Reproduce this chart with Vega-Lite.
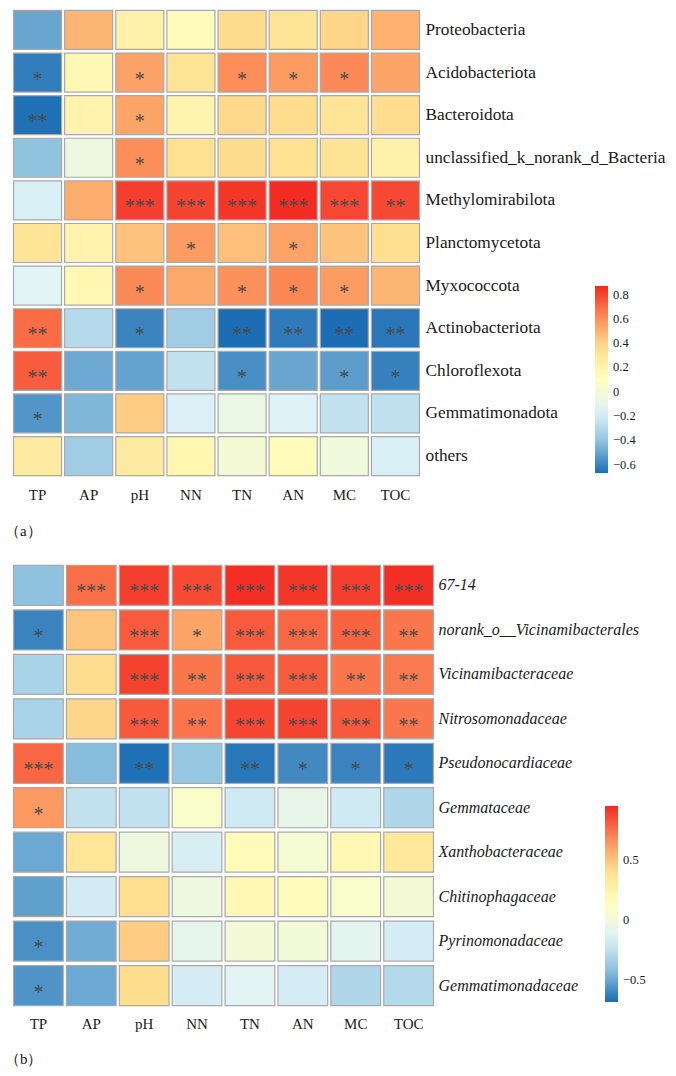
{
  "$schema": "https://vega.github.io/schema/vega-lite/v6.json",
  "background": "white",
  "padding": {"left": 4, "top": 9, "right": 0, "bottom": 0},
  "config": {
    "view": {"stroke": null},
    "font": "Times New Roman, Liberation Serif, serif",
    "concat": {"spacing": 25}
  },
  "datasets": {
    "phylum": [
      {"taxon": "Proteobacteria", "factor": "TP", "r": -0.50, "sig": ""},
      {"taxon": "Proteobacteria", "factor": "AP", "r": 0.49, "sig": ""},
      {"taxon": "Proteobacteria", "factor": "pH", "r": 0.22, "sig": ""},
      {"taxon": "Proteobacteria", "factor": "NN", "r": 0.13, "sig": ""},
      {"taxon": "Proteobacteria", "factor": "TN", "r": 0.37, "sig": ""},
      {"taxon": "Proteobacteria", "factor": "AN", "r": 0.32, "sig": ""},
      {"taxon": "Proteobacteria", "factor": "MC", "r": 0.39, "sig": ""},
      {"taxon": "Proteobacteria", "factor": "TOC", "r": 0.50, "sig": ""},
      {"taxon": "Acidobacteriota", "factor": "TP", "r": -0.62, "sig": "*"},
      {"taxon": "Acidobacteriota", "factor": "AP", "r": 0.16, "sig": ""},
      {"taxon": "Acidobacteriota", "factor": "pH", "r": 0.55, "sig": "*"},
      {"taxon": "Acidobacteriota", "factor": "NN", "r": 0.32, "sig": ""},
      {"taxon": "Acidobacteriota", "factor": "TN", "r": 0.61, "sig": "*"},
      {"taxon": "Acidobacteriota", "factor": "AN", "r": 0.57, "sig": "*"},
      {"taxon": "Acidobacteriota", "factor": "MC", "r": 0.62, "sig": "*"},
      {"taxon": "Acidobacteriota", "factor": "TOC", "r": 0.54, "sig": ""},
      {"taxon": "Bacteroidota", "factor": "TP", "r": -0.66, "sig": "**"},
      {"taxon": "Bacteroidota", "factor": "AP", "r": 0.20, "sig": ""},
      {"taxon": "Bacteroidota", "factor": "pH", "r": 0.54, "sig": "*"},
      {"taxon": "Bacteroidota", "factor": "NN", "r": 0.19, "sig": ""},
      {"taxon": "Bacteroidota", "factor": "TN", "r": 0.38, "sig": ""},
      {"taxon": "Bacteroidota", "factor": "AN", "r": 0.365, "sig": ""},
      {"taxon": "Bacteroidota", "factor": "MC", "r": 0.32, "sig": ""},
      {"taxon": "Bacteroidota", "factor": "TOC", "r": 0.365, "sig": ""},
      {"taxon": "unclassified_k_norank_d_Bacteria", "factor": "TP", "r": -0.41, "sig": ""},
      {"taxon": "unclassified_k_norank_d_Bacteria", "factor": "AP", "r": -0.05, "sig": ""},
      {"taxon": "unclassified_k_norank_d_Bacteria", "factor": "pH", "r": 0.61, "sig": "*"},
      {"taxon": "unclassified_k_norank_d_Bacteria", "factor": "NN", "r": 0.35, "sig": ""},
      {"taxon": "unclassified_k_norank_d_Bacteria", "factor": "TN", "r": 0.37, "sig": ""},
      {"taxon": "unclassified_k_norank_d_Bacteria", "factor": "AN", "r": 0.35, "sig": ""},
      {"taxon": "unclassified_k_norank_d_Bacteria", "factor": "MC", "r": 0.33, "sig": ""},
      {"taxon": "unclassified_k_norank_d_Bacteria", "factor": "TOC", "r": 0.22, "sig": ""},
      {"taxon": "Methylomirabilota", "factor": "TP", "r": -0.18, "sig": ""},
      {"taxon": "Methylomirabilota", "factor": "AP", "r": 0.51, "sig": ""},
      {"taxon": "Methylomirabilota", "factor": "pH", "r": 0.815, "sig": "***"},
      {"taxon": "Methylomirabilota", "factor": "NN", "r": 0.80, "sig": "***"},
      {"taxon": "Methylomirabilota", "factor": "TN", "r": 0.84, "sig": "***"},
      {"taxon": "Methylomirabilota", "factor": "AN", "r": 0.865, "sig": "***"},
      {"taxon": "Methylomirabilota", "factor": "MC", "r": 0.795, "sig": "***"},
      {"taxon": "Methylomirabilota", "factor": "TOC", "r": 0.79, "sig": "**"},
      {"taxon": "Planctomycetota", "factor": "TP", "r": 0.32, "sig": ""},
      {"taxon": "Planctomycetota", "factor": "AP", "r": 0.20, "sig": ""},
      {"taxon": "Planctomycetota", "factor": "pH", "r": 0.45, "sig": ""},
      {"taxon": "Planctomycetota", "factor": "NN", "r": 0.57, "sig": "*"},
      {"taxon": "Planctomycetota", "factor": "TN", "r": 0.46, "sig": ""},
      {"taxon": "Planctomycetota", "factor": "AN", "r": 0.545, "sig": "*"},
      {"taxon": "Planctomycetota", "factor": "MC", "r": 0.45, "sig": ""},
      {"taxon": "Planctomycetota", "factor": "TOC", "r": 0.357, "sig": ""},
      {"taxon": "Myxococcota", "factor": "TP", "r": -0.14, "sig": ""},
      {"taxon": "Myxococcota", "factor": "AP", "r": 0.17, "sig": ""},
      {"taxon": "Myxococcota", "factor": "pH", "r": 0.62, "sig": "*"},
      {"taxon": "Myxococcota", "factor": "NN", "r": 0.53, "sig": ""},
      {"taxon": "Myxococcota", "factor": "TN", "r": 0.60, "sig": "*"},
      {"taxon": "Myxococcota", "factor": "AN", "r": 0.63, "sig": "*"},
      {"taxon": "Myxococcota", "factor": "MC", "r": 0.57, "sig": "*"},
      {"taxon": "Myxococcota", "factor": "TOC", "r": 0.49, "sig": ""},
      {"taxon": "Actinobacteriota", "factor": "TP", "r": 0.70, "sig": "**"},
      {"taxon": "Actinobacteriota", "factor": "AP", "r": -0.29, "sig": ""},
      {"taxon": "Actinobacteriota", "factor": "pH", "r": -0.60, "sig": "*"},
      {"taxon": "Actinobacteriota", "factor": "NN", "r": -0.36, "sig": ""},
      {"taxon": "Actinobacteriota", "factor": "TN", "r": -0.67, "sig": "**"},
      {"taxon": "Actinobacteriota", "factor": "AN", "r": -0.63, "sig": "**"},
      {"taxon": "Actinobacteriota", "factor": "MC", "r": -0.67, "sig": "**"},
      {"taxon": "Actinobacteriota", "factor": "TOC", "r": -0.64, "sig": "**"},
      {"taxon": "Chloroflexota", "factor": "TP", "r": 0.74, "sig": "**"},
      {"taxon": "Chloroflexota", "factor": "AP", "r": -0.49, "sig": ""},
      {"taxon": "Chloroflexota", "factor": "pH", "r": -0.51, "sig": ""},
      {"taxon": "Chloroflexota", "factor": "NN", "r": -0.25, "sig": ""},
      {"taxon": "Chloroflexota", "factor": "TN", "r": -0.57, "sig": "*"},
      {"taxon": "Chloroflexota", "factor": "AN", "r": -0.50, "sig": ""},
      {"taxon": "Chloroflexota", "factor": "MC", "r": -0.53, "sig": "*"},
      {"taxon": "Chloroflexota", "factor": "TOC", "r": -0.61, "sig": "*"},
      {"taxon": "Gemmatimonadota", "factor": "TP", "r": -0.55, "sig": "*"},
      {"taxon": "Gemmatimonadota", "factor": "AP", "r": -0.45, "sig": ""},
      {"taxon": "Gemmatimonadota", "factor": "pH", "r": 0.42, "sig": ""},
      {"taxon": "Gemmatimonadota", "factor": "NN", "r": -0.17, "sig": ""},
      {"taxon": "Gemmatimonadota", "factor": "TN", "r": -0.07, "sig": ""},
      {"taxon": "Gemmatimonadota", "factor": "AN", "r": -0.16, "sig": ""},
      {"taxon": "Gemmatimonadota", "factor": "MC", "r": -0.25, "sig": ""},
      {"taxon": "Gemmatimonadota", "factor": "TOC", "r": -0.26, "sig": ""},
      {"taxon": "others", "factor": "TP", "r": 0.27, "sig": ""},
      {"taxon": "others", "factor": "AP", "r": -0.36, "sig": ""},
      {"taxon": "others", "factor": "pH", "r": 0.27, "sig": ""},
      {"taxon": "others", "factor": "NN", "r": 0.17, "sig": ""},
      {"taxon": "others", "factor": "TN", "r": 0.005, "sig": ""},
      {"taxon": "others", "factor": "AN", "r": 0.13, "sig": ""},
      {"taxon": "others", "factor": "MC", "r": -0.03, "sig": ""},
      {"taxon": "others", "factor": "TOC", "r": -0.18, "sig": ""}
    ],
    "family": [
      {"taxon": "67-14", "factor": "TP", "r": -0.41, "sig": ""},
      {"taxon": "67-14", "factor": "AP", "r": 0.765, "sig": "***"},
      {"taxon": "67-14", "factor": "pH", "r": 0.893, "sig": "***"},
      {"taxon": "67-14", "factor": "NN", "r": 0.863, "sig": "***"},
      {"taxon": "67-14", "factor": "TN", "r": 0.94, "sig": "***"},
      {"taxon": "67-14", "factor": "AN", "r": 0.918, "sig": "***"},
      {"taxon": "67-14", "factor": "MC", "r": 0.895, "sig": "***"},
      {"taxon": "67-14", "factor": "TOC", "r": 0.935, "sig": "***"},
      {"taxon": "norank_o__Vicinamibacterales", "factor": "TP", "r": -0.61, "sig": "*"},
      {"taxon": "norank_o__Vicinamibacterales", "factor": "AP", "r": 0.495, "sig": ""},
      {"taxon": "norank_o__Vicinamibacterales", "factor": "pH", "r": 0.818, "sig": "***"},
      {"taxon": "norank_o__Vicinamibacterales", "factor": "NN", "r": 0.60, "sig": "*"},
      {"taxon": "norank_o__Vicinamibacterales", "factor": "TN", "r": 0.818, "sig": "***"},
      {"taxon": "norank_o__Vicinamibacterales", "factor": "AN", "r": 0.785, "sig": "***"},
      {"taxon": "norank_o__Vicinamibacterales", "factor": "MC", "r": 0.79, "sig": "***"},
      {"taxon": "norank_o__Vicinamibacterales", "factor": "TOC", "r": 0.74, "sig": "**"},
      {"taxon": "Vicinamibacteraceae", "factor": "TP", "r": -0.32, "sig": ""},
      {"taxon": "Vicinamibacteraceae", "factor": "AP", "r": 0.417, "sig": ""},
      {"taxon": "Vicinamibacteraceae", "factor": "pH", "r": 0.885, "sig": "***"},
      {"taxon": "Vicinamibacteraceae", "factor": "NN", "r": 0.74, "sig": "**"},
      {"taxon": "Vicinamibacteraceae", "factor": "TN", "r": 0.82, "sig": "***"},
      {"taxon": "Vicinamibacteraceae", "factor": "AN", "r": 0.815, "sig": "***"},
      {"taxon": "Vicinamibacteraceae", "factor": "MC", "r": 0.74, "sig": "**"},
      {"taxon": "Vicinamibacteraceae", "factor": "TOC", "r": 0.73, "sig": "**"},
      {"taxon": "Nitrosomonadaceae", "factor": "TP", "r": -0.32, "sig": ""},
      {"taxon": "Nitrosomonadaceae", "factor": "AP", "r": 0.44, "sig": ""},
      {"taxon": "Nitrosomonadaceae", "factor": "pH", "r": 0.82, "sig": "***"},
      {"taxon": "Nitrosomonadaceae", "factor": "NN", "r": 0.745, "sig": "**"},
      {"taxon": "Nitrosomonadaceae", "factor": "TN", "r": 0.873, "sig": "***"},
      {"taxon": "Nitrosomonadaceae", "factor": "AN", "r": 0.88, "sig": "***"},
      {"taxon": "Nitrosomonadaceae", "factor": "MC", "r": 0.82, "sig": "***"},
      {"taxon": "Nitrosomonadaceae", "factor": "TOC", "r": 0.74, "sig": "**"},
      {"taxon": "Pseudonocardiaceae", "factor": "TP", "r": 0.785, "sig": "***"},
      {"taxon": "Pseudonocardiaceae", "factor": "AP", "r": -0.43, "sig": ""},
      {"taxon": "Pseudonocardiaceae", "factor": "pH", "r": -0.67, "sig": "**"},
      {"taxon": "Pseudonocardiaceae", "factor": "NN", "r": -0.38, "sig": ""},
      {"taxon": "Pseudonocardiaceae", "factor": "TN", "r": -0.65, "sig": "**"},
      {"taxon": "Pseudonocardiaceae", "factor": "AN", "r": -0.59, "sig": "*"},
      {"taxon": "Pseudonocardiaceae", "factor": "MC", "r": -0.61, "sig": "*"},
      {"taxon": "Pseudonocardiaceae", "factor": "TOC", "r": -0.64, "sig": "*"},
      {"taxon": "Gemmataceae", "factor": "TP", "r": 0.636, "sig": "*"},
      {"taxon": "Gemmataceae", "factor": "AP", "r": -0.237, "sig": ""},
      {"taxon": "Gemmataceae", "factor": "pH", "r": -0.237, "sig": ""},
      {"taxon": "Gemmataceae", "factor": "NN", "r": 0.086, "sig": ""},
      {"taxon": "Gemmataceae", "factor": "TN", "r": -0.19, "sig": ""},
      {"taxon": "Gemmataceae", "factor": "AN", "r": -0.07, "sig": ""},
      {"taxon": "Gemmataceae", "factor": "MC", "r": -0.19, "sig": ""},
      {"taxon": "Gemmataceae", "factor": "TOC", "r": -0.30, "sig": ""},
      {"taxon": "Xanthobacteraceae", "factor": "TP", "r": -0.49, "sig": ""},
      {"taxon": "Xanthobacteraceae", "factor": "AP", "r": 0.363, "sig": ""},
      {"taxon": "Xanthobacteraceae", "factor": "pH", "r": -0.017, "sig": ""},
      {"taxon": "Xanthobacteraceae", "factor": "NN", "r": -0.167, "sig": ""},
      {"taxon": "Xanthobacteraceae", "factor": "TN", "r": 0.17, "sig": ""},
      {"taxon": "Xanthobacteraceae", "factor": "AN", "r": 0.045, "sig": ""},
      {"taxon": "Xanthobacteraceae", "factor": "MC", "r": 0.205, "sig": ""},
      {"taxon": "Xanthobacteraceae", "factor": "TOC", "r": 0.34, "sig": ""},
      {"taxon": "Chitinophagaceae", "factor": "TP", "r": -0.52, "sig": ""},
      {"taxon": "Chitinophagaceae", "factor": "AP", "r": -0.18, "sig": ""},
      {"taxon": "Chitinophagaceae", "factor": "pH", "r": 0.407, "sig": ""},
      {"taxon": "Chitinophagaceae", "factor": "NN", "r": -0.017, "sig": ""},
      {"taxon": "Chitinophagaceae", "factor": "TN", "r": 0.196, "sig": ""},
      {"taxon": "Chitinophagaceae", "factor": "AN", "r": 0.16, "sig": ""},
      {"taxon": "Chitinophagaceae", "factor": "MC", "r": 0.086, "sig": ""},
      {"taxon": "Chitinophagaceae", "factor": "TOC", "r": 0.035, "sig": ""},
      {"taxon": "Pyrinomonadaceae", "factor": "TP", "r": -0.57, "sig": "*"},
      {"taxon": "Pyrinomonadaceae", "factor": "AP", "r": -0.48, "sig": ""},
      {"taxon": "Pyrinomonadaceae", "factor": "pH", "r": 0.47, "sig": ""},
      {"taxon": "Pyrinomonadaceae", "factor": "NN", "r": -0.08, "sig": ""},
      {"taxon": "Pyrinomonadaceae", "factor": "TN", "r": 0.03, "sig": ""},
      {"taxon": "Pyrinomonadaceae", "factor": "AN", "r": 0.02, "sig": ""},
      {"taxon": "Pyrinomonadaceae", "factor": "MC", "r": -0.10, "sig": ""},
      {"taxon": "Pyrinomonadaceae", "factor": "TOC", "r": -0.17, "sig": ""},
      {"taxon": "Gemmatimonadaceae", "factor": "TP", "r": -0.56, "sig": "*"},
      {"taxon": "Gemmatimonadaceae", "factor": "AP", "r": -0.49, "sig": ""},
      {"taxon": "Gemmatimonadaceae", "factor": "pH", "r": 0.41, "sig": ""},
      {"taxon": "Gemmatimonadaceae", "factor": "NN", "r": -0.17, "sig": ""},
      {"taxon": "Gemmatimonadaceae", "factor": "TN", "r": -0.12, "sig": ""},
      {"taxon": "Gemmatimonadaceae", "factor": "AN", "r": -0.17, "sig": ""},
      {"taxon": "Gemmatimonadaceae", "factor": "MC", "r": -0.30, "sig": ""},
      {"taxon": "Gemmatimonadaceae", "factor": "TOC", "r": -0.29, "sig": ""}
    ]
  },
  "vconcat": [
    {
      "width": 407,
      "height": 466,
      "data": {"name": "phylum"},
      "title": {"text": "（a）", "orient": "bottom", "anchor": "start", "offset": 22, "fontSize": 15, "fontWeight": "normal", "color": "#1a1a1a", "dx": -8},
      "encoding": {
        "x": {
          "field": "factor", "type": "nominal",
          "sort": ["TP", "AP", "pH", "NN", "TN", "AN", "MC", "TOC"],
          "scale": {"paddingInner": 0.06, "paddingOuter": 0.01},
          "axis": {"orient": "bottom", "title": null, "labelAngle": 0, "ticks": false, "domain": false, "labelPadding": 11, "labelFontSize": 15, "labelColor": "#1a1a1a"}
        },
        "y": {
          "field": "taxon", "type": "nominal",
          "sort": ["Proteobacteria", "Acidobacteriota", "Bacteroidota", "unclassified_k_norank_d_Bacteria", "Methylomirabilota", "Planctomycetota", "Myxococcota", "Actinobacteriota", "Chloroflexota", "Gemmatimonadota", "others"],
          "scale": {"paddingInner": 0.085, "paddingOuter": 0.01},
          "axis": {"orient": "right", "title": null, "ticks": false, "domain": false, "labelPadding": 5, "labelFontSize": 17.3, "labelColor": "#1a1a1a", "labelLimit": 300}
        }
      },
      "layer": [
        {
          "mark": {"type": "rect", "stroke": "#a9a9a9", "strokeWidth": 1.2},
          "encoding": {
            "color": {
              "field": "r", "type": "quantitative",
              "scale": {
                "type": "linear",
                "interpolate": "rgb",
                "domain": [-0.67, -0.4133, -0.1567, 0.1, 0.3567, 0.6133, 0.87],
                "range": ["#1c6db4", "#8fc3df", "#e0f3f8", "#ffffbf", "#fee090", "#fc8d59", "#f32a22"]
              },
              "legend": {
                "orient": "none", "legendX": 582, "legendY": 276, "direction": "vertical",
                "title": null, "gradientLength": 187, "gradientThickness": 13, "gradientStrokeWidth": 0,
                "values": [-0.6, -0.4, -0.2, 0, 0.2, 0.4, 0.6, 0.8], "format": ".1~f",
                "labelFontSize": 12.5, "labelColor": "#1a1a1a", "labelOffset": 5, "labelOverlap": false
              }
            }
          }
        },
        {
          "transform": [{"filter": "datum.sig != ''"}],
          "mark": {"type": "text", "fontSize": 20, "color": "#4a4a4a", "baseline": "alphabetic", "dy": 13},
          "encoding": {"text": {"field": "sig", "type": "nominal"}}
        }
      ]
    },
    {
      "width": 421,
      "height": 441,
      "data": {"name": "family"},
      "title": {"text": "（b）", "orient": "bottom", "anchor": "start", "offset": 21, "fontSize": 15, "fontWeight": "normal", "color": "#1a1a1a", "dx": -8},
      "encoding": {
        "x": {
          "field": "factor", "type": "nominal",
          "sort": ["TP", "AP", "pH", "NN", "TN", "AN", "MC", "TOC"],
          "scale": {"paddingInner": 0.06, "paddingOuter": 0.01},
          "axis": {"orient": "bottom", "title": null, "labelAngle": 0, "ticks": false, "domain": false, "labelPadding": 10, "labelFontSize": 15, "labelColor": "#1a1a1a"}
        },
        "y": {
          "field": "taxon", "type": "nominal",
          "sort": ["67-14", "norank_o__Vicinamibacterales", "Vicinamibacteraceae", "Nitrosomonadaceae", "Pseudonocardiaceae", "Gemmataceae", "Xanthobacteraceae", "Chitinophagaceae", "Pyrinomonadaceae", "Gemmatimonadaceae"],
          "scale": {"paddingInner": 0.1, "paddingOuter": 0.01},
          "axis": {"orient": "right", "title": null, "ticks": false, "domain": false, "labelPadding": 4, "labelFontSize": 16, "labelFontStyle": "italic", "labelColor": "#1a1a1a", "labelLimit": 300}
        }
      },
      "layer": [
        {
          "mark": {"type": "rect", "stroke": "#a9a9a9", "strokeWidth": 1.2},
          "encoding": {
            "color": {
              "field": "r", "type": "quantitative",
              "scale": {
                "type": "linear",
                "interpolate": "rgb",
                "domain": [-0.68, -0.4083, -0.1367, 0.135, 0.4067, 0.6783, 0.95],
                "range": ["#1c6db4", "#8fc3df", "#e0f3f8", "#ffffbf", "#fee090", "#fc8d59", "#f32a22"]
              },
              "legend": {
                "orient": "none", "legendX": 592, "legendY": 241, "direction": "vertical",
                "title": null, "gradientLength": 196, "gradientThickness": 13, "gradientStrokeWidth": 0,
                "values": [-0.5, 0, 0.5], "format": ".1~f",
                "labelFontSize": 12.5, "labelColor": "#1a1a1a", "labelOffset": 5, "labelOverlap": false
              }
            }
          }
        },
        {
          "transform": [{"filter": "datum.sig != ''"}],
          "mark": {"type": "text", "fontSize": 20, "color": "#4a4a4a", "baseline": "alphabetic", "dy": 13},
          "encoding": {"text": {"field": "sig", "type": "nominal"}}
        }
      ]
    }
  ],
  "resolve": {
    "scale": {"color": "independent", "x": "independent", "y": "independent"},
    "legend": {"color": "independent"}
  }
}
